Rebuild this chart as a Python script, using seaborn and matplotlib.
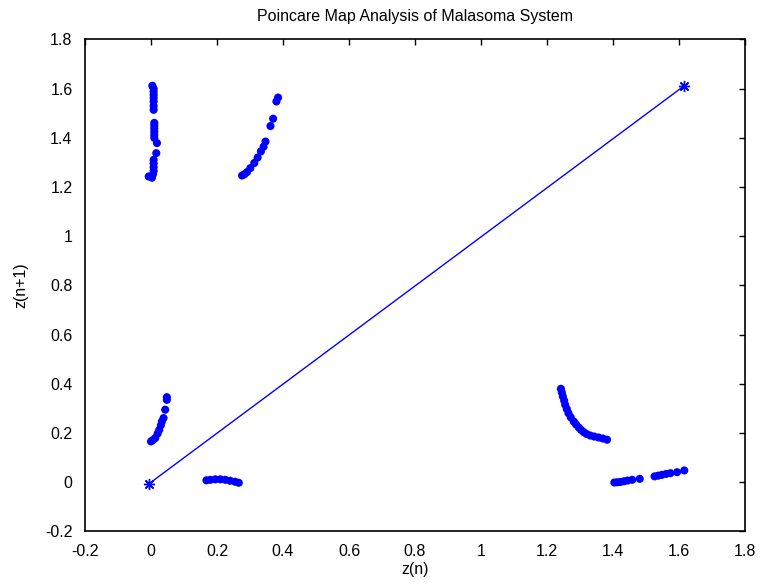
import numpy as np
import pandas as pd
import seaborn as sns
import matplotlib
matplotlib.use('Agg')
import matplotlib.pyplot as plt

#############################
# Poincare map point groups #
#############################

# group near z(n)=0, high z(n+1)
a_x = [0.004, 0.008, 0.008, 0.008, 0.008, 0.008, 0.008, 0.008,
       0.010, 0.010, 0.010, 0.010, 0.010, 0.010, 0.018, 0.016,
       0.008, 0.008, 0.008, 0.008, 0.006, -0.007, 0.003]
a_y = [1.612, 1.600, 1.588, 1.575, 1.562, 1.548, 1.530, 1.514,
       1.461, 1.450, 1.438, 1.425, 1.412, 1.400, 1.379, 1.338,
       1.311, 1.296, 1.281, 1.266, 1.252, 1.243, 1.238]

# curved group around z(n)=0.3
b_x = [0.276, 0.283, 0.291, 0.301, 0.313, 0.323, 0.333, 0.341, 0.347,
       0.362, 0.370, 0.380, 0.385]
b_y = [1.247, 1.252, 1.261, 1.277, 1.298, 1.320, 1.345, 1.364, 1.385,
       1.448, 1.478, 1.548, 1.564]

# small group near origin
c_x = [0.000, 0.006, 0.013, 0.020, 0.025, 0.030, 0.033, 0.038, 0.043, 0.048, 0.048]
c_y = [0.166, 0.172, 0.180, 0.198, 0.213, 0.232, 0.247, 0.261, 0.295, 0.335, 0.346]

# flat group around z(n)=0.2
d_x = [0.168, 0.180, 0.195, 0.210, 0.225, 0.240, 0.255, 0.266]
d_y = [0.008, 0.010, 0.012, 0.012, 0.010, 0.006, 0.002, -0.002]

# falling curve around z(n)=1.3
e_x = [1.242, 1.245, 1.248, 1.252, 1.255, 1.260, 1.265, 1.272, 1.281, 1.288,
       1.296, 1.303, 1.311, 1.320, 1.331, 1.343, 1.356, 1.369, 1.382]
e_y = [0.380, 0.365, 0.349, 0.332, 0.315, 0.298, 0.281, 0.264, 0.247, 0.235,
       0.223, 0.213, 0.204, 0.196, 0.190, 0.186, 0.182, 0.178, 0.173]

# low group around z(n)=1.5
f_x = [1.404, 1.413, 1.422, 1.433, 1.444, 1.458, 1.481,
       1.526, 1.537, 1.548, 1.561, 1.574, 1.594, 1.616]
f_y = [-0.001, 0.000, 0.001, 0.004, 0.007, 0.010, 0.014,
       0.024, 0.027, 0.030, 0.034, 0.037, 0.041, 0.048]

# diagonal reference line between min and max
diag_x = [-0.005, 1.616]
diag_y = [-0.005, 1.612]

tick_vals = [-0.2, 0, 0.2, 0.4, 0.6, 0.8, 1, 1.2, 1.4, 1.6, 1.8]
tick_labels = ['-0.2', '0', '0.2', '0.4', '0.6', '0.8', '1', '1.2', '1.4', '1.6', '1.8']

pts = pd.DataFrame({
    'z(n)': a_x + b_x + c_x + d_x + e_x + f_x,
    'z(n+1)': a_y + b_y + c_y + d_y + e_y + f_y,
})
diag = pd.DataFrame({'x': diag_x, 'y': diag_y})

sns.set_style('white')
plt.rcParams['font.family'] = ['Liberation Sans', 'DejaVu Sans']
plt.rcParams['xtick.direction'] = 'in'
plt.rcParams['ytick.direction'] = 'in'
plt.rcParams['text.color'] = 'black'
plt.rcParams['axes.labelcolor'] = 'black'
plt.rcParams['xtick.labelcolor'] = 'black'
plt.rcParams['ytick.labelcolor'] = 'black'

fig = plt.figure(figsize=(7.61, 5.85), dpi=100)
ax = fig.add_axes([0.1117, 0.0915, 0.8673, 0.841])

blue = '#0000ff'
sns.lineplot(data=diag, x='x', y='y', sort=False, color=blue, lw=1.0,
             marker=(8, 2, 0), markersize=8, markeredgewidth=1.0,
             markeredgecolor=blue, ax=ax)
sns.scatterplot(data=pts, x='z(n)', y='z(n+1)', color=blue, s=34,
                edgecolor='none', ax=ax)

ax.set_xlim(-0.2, 1.8)
ax.set_ylim(-0.2, 1.8)
ax.set_xticks(tick_vals)
ax.set_yticks(tick_vals)
ax.set_xticklabels(tick_labels)
ax.set_yticklabels(tick_labels)
ax.tick_params(axis='both', labelsize=11.5, length=4, width=1, color='black',
               labelcolor='black', top=True, right=True)
ax.tick_params(axis='x', pad=9)
ax.tick_params(axis='y', pad=9)
for sp in ax.spines.values():
    sp.set_color('black')
    sp.set_linewidth(1.2)

ax.set_xlabel('z(n)', fontsize=11.5, labelpad=2, color='black')
ax.set_ylabel('z(n+1)', fontsize=11.5, labelpad=12, color='black')
ax.set_title('Poincare Map Analysis of Malasoma System', fontsize=11.5, pad=13,
             color='black')

fig.savefig('out.png', dpi=100)
